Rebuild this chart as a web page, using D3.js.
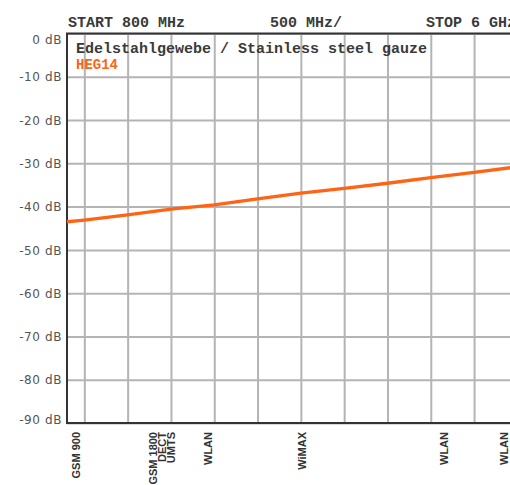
<!DOCTYPE html>
<html>
<head>
<meta charset="utf-8">
<script src="https://cdn.jsdelivr.net/npm/d3@7"></script>
<style>
  body { margin: 0; background: #fff; }
  svg { display: block; }
</style>
</head>
<body>
<svg id="chart"></svg>
<script>
// attenuation curve (GHz / dB)
var freqs = [0.8, 1.0, 1.5, 2.0, 2.5, 3.0, 3.5, 4.0, 4.5, 5.0, 5.5, 6.0];
var atten = [-43.5, -43.1, -41.9, -40.6, -39.6, -38.2, -36.9, -35.8, -34.6, -33.3, -32.1, -30.8];

var dbTicks = [0, -10, -20, -30, -40, -50, -60, -70, -80, -90];
var gridFreqs = [1.0, 1.5, 2.0, 2.5, 3.0, 3.5, 4.0, 4.5, 5.0, 5.5, 6.0];

var bandNames = ["GSM 900", "GSM 1800", "DECT", "UMTS", "WLAN", "WiMAX", "WLAN", "WLAN"];
var bandFreqs = [0.9, 1.8, 1.9, 2.0, 2.43, 3.52, 5.15, 5.85];

var headStart = "START 800 MHz";
var headDiv = "500 MHz/";
var headStop = "STOP 6 GHz";
var title = "Edelstahlgewebe / Stainless steel gauze";
var seriesName = "HEG14";

var svgWidth = 510;
var svgHeight = 485;
var plotLeft = 67, plotRight = 517.4, plotTop = 33.5, plotBottom = 423;

var svg = d3.select("#chart")
  .attr("width", svgWidth)
  .attr("height", svgHeight);

var x = d3.scaleLinear().domain([0.8, 6]).range([plotLeft, plotRight]);
var y = d3.scaleLinear().domain([0, -90]).range([plotTop, plotBottom]);

// vertical grid
var xGrid = svg.append("g")
  .attr("transform", "translate(0," + plotBottom + ")")
  .call(d3.axisBottom(x).tickValues(gridFreqs).tickSize(-(plotBottom - plotTop)).tickFormat(""));
xGrid.select(".domain").remove();
xGrid.selectAll("line").attr("stroke", "#b4b4b4").attr("stroke-width", 2);

// horizontal grid + dB labels
var yAxis = svg.append("g")
  .attr("transform", "translate(" + plotLeft + ",0)")
  .call(d3.axisLeft(y).tickValues(dbTicks).tickSize(-(plotRight - plotLeft)).tickPadding(5)
    .tickFormat(function(d) { return d + " dB"; }));
yAxis.select(".domain").remove();
yAxis.selectAll("line").attr("stroke", "#b4b4b4").attr("stroke-width", 2);
yAxis.selectAll("text")
  .attr("fill", "#555")
  .style("font-family", "DejaVu Sans")
  .style("font-size", "12px")
  .style("letter-spacing", "0.6px")
  .attr("dy", function(d) {
    if (d == 0) return "0.85em";
    if (d == -90) return "0.05em";
    return "0.35em";
  });

// frame
svg.append("path")
  .attr("d", "M" + (plotRight + 5) + "," + plotTop + "H" + plotLeft + "V" + plotBottom + "H" + (plotRight + 5))
  .attr("fill", "none")
  .attr("stroke", "#333")
  .attr("stroke-width", 2);

// band labels under the axis
svg.append("g").selectAll("text")
  .data(bandNames)
  .enter()
  .append("text")
  .attr("transform", function(d, i) {
    return "translate(" + x(bandFreqs[i]) + "," + (plotBottom + 9) + ") rotate(-90)";
  })
  .attr("dy", "0.35em")
  .attr("text-anchor", "end")
  .attr("fill", "#333")
  .style("font-family", "Liberation Sans")
  .style("font-size", "11px")
  .style("font-weight", "bold")
  .text(function(d) { return d; });

// curve
var line = d3.line()
  .x(function(d, i) { return x(freqs[i]); })
  .y(function(d) { return y(d); });

svg.append("path")
  .datum(atten)
  .attr("d", line)
  .attr("fill", "none")
  .attr("stroke", "#ff6414")
  .attr("stroke-width", 3.3);

// header texts
var mono = "Liberation Mono";
var head = svg.append("g")
  .attr("fill", "#3a3a3a")
  .style("font-family", mono)
  .style("font-size", "15px")
  .style("font-weight", "bold");
head.append("text").attr("x", 68).attr("y", 26.5).text(headStart);
head.append("text").attr("x", 270).attr("y", 26.5).text(headDiv);
head.append("text").attr("x", 426).attr("y", 26.5).text(headStop);
head.append("text").attr("x", 76).attr("y", 53).text(title);

svg.append("text")
  .attr("x", 76).attr("y", 69)
  .attr("fill", "#ff6414")
  .style("font-family", mono)
  .style("font-size", "14px")
  .style("font-weight", "bold")
  .text(seriesName);
</script>
</body>
</html>
